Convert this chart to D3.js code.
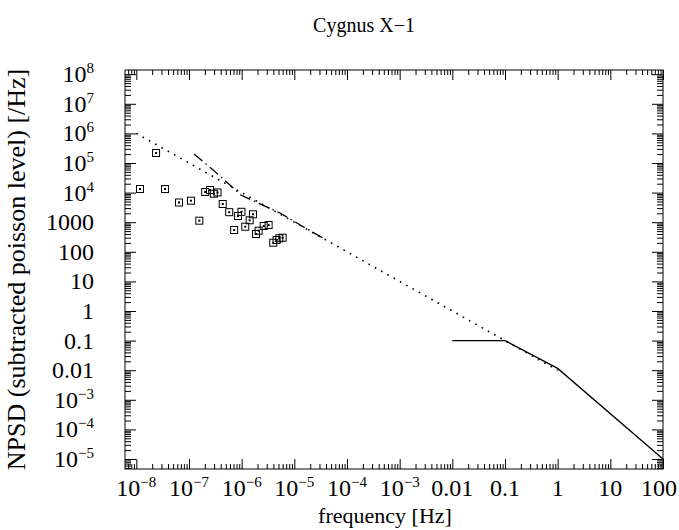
<!DOCTYPE html>
<html>
<head>
<meta charset="utf-8">
<script src="https://cdn.jsdelivr.net/npm/d3@7"></script>
<style>
  body { margin: 0; background: #fff; }
  svg text { font-family: "Liberation Serif", "Times New Roman", serif; fill: #000; }
  .axis path { display: none; }
  .axis line { stroke: #000; stroke-width: 1; }
</style>
</head>
<body>
<svg id="chart" width="679" height="530"></svg>
<script>
// ---- data -----------------------------------------------------------------
const xTickVals = [1e-8, 1e-7, 1e-6, 1e-5, 1e-4, 1e-3, 1e-2, 1e-1, 1, 10, 100];
const yTickVals = [1e8, 1e7, 1e6, 1e5, 1e4, 1000, 100, 10, 1, 0.1, 0.01, 1e-3, 1e-4, 1e-5];

// dotted model (f^-1 power law)
const modelFreq = [1e-8, 1];
const modelPsd  = [1e6, 0.01];

// dash-dot curve
const ddFreq = [1.245e-7, 2.735e-7, 6.0e-7, 9.7e-7, 2.04e-6, 5.33e-6, 1.39e-5, 3.49e-5];
const ddPsd  = [2.01e5, 6.27e4, 1.81e4, 8300, 4460, 2050, 745, 292];

// solid broken power law
const bplFreq = [0.01, 0.1, 1, 100];
const bplPsd  = [0.1, 0.1, 0.0115, 1e-5];

// measured points (boxes)
const ptFreq = [1.175e-8, 2.37e-8, 3.51e-8, 6.46e-8, 1.09e-7, 1.57e-7, 2.03e-7, 2.51e-7,
                2.96e-7, 3.48e-7, 4.37e-7, 5.8e-7, 7.21e-7, 8.51e-7, 9.91e-7, 1.17e-6,
                1.42e-6, 1.64e-6, 1.87e-6, 2.1e-6, 2.62e-6, 3.25e-6, 3.98e-6, 4.61e-6,
                5.18e-6, 6.0e-6];
const ptPsd  = [1.32e4, 2.18e5, 1.32e4, 4630, 5330, 1125, 1.05e4, 1.22e4,
                9180, 1.01e4, 4120, 2180, 545, 1620, 2245, 705,
                1160, 1850, 399, 516, 744, 804, 203, 250,
                286, 299];

// ---- layout ---------------------------------------------------------------
const W = 679, H = 530;
const M = { top: 70, right: 16, bottom: 61, left: 125 };
const iw = W - M.left - M.right, ih = H - M.top - M.bottom;

const svg = d3.select("#chart");
const g = svg.append("g").attr("transform", `translate(${M.left},${M.top})`);

const x = d3.scaleLog().domain([Math.pow(10, -8.215), 100]).range([0, iw]);
const y = d3.scaleLog().domain([Math.pow(10, -5.338), Math.pow(10, 8.142)]).range([ih, 0]);

// minor ticks, 2..9 of each decade inside the domain
function minorTicks(scale) {
  const [lo, hi] = scale.domain();
  const out = [];
  for (let e = Math.floor(Math.log10(lo)); e <= Math.ceil(Math.log10(hi)); e++) {
    for (let k = 2; k <= 9; k++) {
      const v = k * Math.pow(10, e);
      if (v >= lo && v <= hi) out.push(v);
    }
  }
  return out;
}

const XMAJ = 10, XMIN = 5, YMAJ = 11, YMIN = 6;
const noLab = () => "";

g.append("g").attr("class", "axis").attr("transform", `translate(0,${ih})`)
  .call(d3.axisBottom(x).tickValues(xTickVals).tickSize(-XMAJ).tickFormat(noLab));
g.append("g").attr("class", "axis").attr("transform", `translate(0,${ih})`)
  .call(d3.axisBottom(x).tickValues(minorTicks(x)).tickSize(-XMIN).tickFormat(noLab));
g.append("g").attr("class", "axis")
  .call(d3.axisTop(x).tickValues(xTickVals).tickSize(-XMAJ).tickFormat(noLab));
g.append("g").attr("class", "axis")
  .call(d3.axisTop(x).tickValues(minorTicks(x)).tickSize(-XMIN).tickFormat(noLab));
g.append("g").attr("class", "axis")
  .call(d3.axisLeft(y).tickValues(yTickVals).tickSize(-YMAJ).tickFormat(noLab));
g.append("g").attr("class", "axis")
  .call(d3.axisLeft(y).tickValues(minorTicks(y)).tickSize(-YMIN).tickFormat(noLab));
g.append("g").attr("class", "axis").attr("transform", `translate(${iw},0)`)
  .call(d3.axisRight(y).tickValues(yTickVals).tickSize(-YMAJ).tickFormat(noLab));
g.append("g").attr("class", "axis").attr("transform", `translate(${iw},0)`)
  .call(d3.axisRight(y).tickValues(minorTicks(y)).tickSize(-YMIN).tickFormat(noLab));

// frame
g.append("rect").attr("width", iw).attr("height", ih)
  .attr("fill", "none").attr("stroke", "#000").attr("stroke-width", 1);

// tick labels: plain for 0.01..1000, otherwise 10^n
function label(sel, v) {
  const e = Math.round(Math.log10(v));
  if (e >= -2 && e <= 3) {
    sel.text(e < 0 ? v.toFixed(-e) : String(v));
  } else {
    sel.append("tspan").text("10");
    sel.append("tspan").attr("dy", -9).attr("font-size", "15px")
      .text(e < 0 ? "\u2212" + (-e) : String(e));
  }
}

g.append("g").selectAll("text").data(xTickVals).join("text")
  .attr("x", (d) => x(d)).attr("y", ih + 27)
  .attr("text-anchor", "middle").attr("font-size", "24px")
  .each(function (d) {
    label(d3.select(this), d);
    // keep the last label inside the picture
    const half = this.getComputedTextLength() / 2;
    const over = M.left + x(d) + half - (W - 2);
    if (over > 0) d3.select(this).attr("x", x(d) - over);
  });

g.append("g").selectAll("text").data(yTickVals).join("text")
  .attr("x", -31).attr("y", (d) => y(d) + 8)
  .attr("text-anchor", "end").attr("font-size", "24px")
  .each(function (d) { label(d3.select(this), d); });

// curves
const line = d3.line().x((d) => x(d[0])).y((d) => y(d[1]));

g.append("path").datum(d3.zip(modelFreq, modelPsd))
  .attr("d", line).attr("fill", "none").attr("stroke", "#000")
  .attr("stroke-width", 1.6).attr("stroke-dasharray", "1.6 5.6");

g.append("path").datum(d3.zip(ddFreq, ddPsd))
  .attr("d", line).attr("fill", "none").attr("stroke", "#000")
  .attr("stroke-width", 1.3).attr("stroke-dasharray", "11 4 1.5 4");

g.append("path").datum(d3.zip(bplFreq, bplPsd))
  .attr("d", line).attr("fill", "none").attr("stroke", "#000")
  .attr("stroke-width", 1.3);

// boxes with centre dot
const pts = g.append("g").selectAll("g").data(d3.zip(ptFreq, ptPsd)).join("g")
  .attr("transform", (d) => `translate(${x(d[0])},${y(d[1])})`);
pts.append("rect").attr("x", -3.5).attr("y", -3.5).attr("width", 7).attr("height", 7)
  .attr("fill", "none").attr("stroke", "#000").attr("stroke-width", 1);
pts.append("rect").attr("x", -1).attr("y", -1).attr("width", 2).attr("height", 2)
  .attr("fill", "#000");

// titles
svg.append("text").attr("x", 364).attr("y", 32).attr("text-anchor", "middle")
  .attr("font-size", "20px").text("Cygnus X\u22121");
svg.append("text").attr("x", 385).attr("y", 523).attr("text-anchor", "middle")
  .attr("font-size", "22px").text("frequency [Hz]");
svg.append("text").attr("transform", `translate(25,${M.top + ih / 2}) rotate(-90)`)
  .attr("text-anchor", "middle").attr("font-size", "26px")
  .text("NPSD (subtracted poisson level) [/Hz]");
</script>
</body>
</html>
